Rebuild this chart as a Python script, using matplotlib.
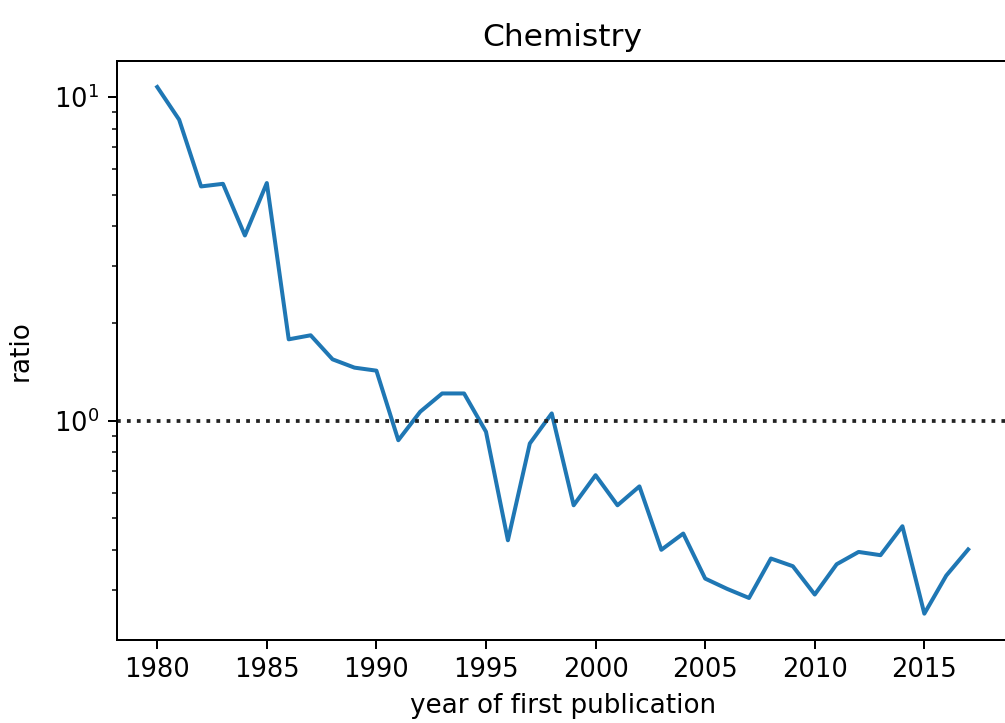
import numpy as np
import matplotlib
matplotlib.use('Agg')
import matplotlib.pyplot as plt

# ratio per year of first publication
years = list(range(1980, 2018))
ratio = [10.75, 8.52, 5.30, 5.40, 3.74, 5.43, 1.787, 1.839, 1.550, 1.461,
         1.430, 0.872, 1.068, 1.216, 1.216, 0.926, 0.428, 0.852, 1.055, 0.549,
         0.680, 0.549, 0.628, 0.400, 0.449, 0.326, 0.303, 0.284, 0.376, 0.356,
         0.291, 0.361, 0.394, 0.385, 0.473, 0.254, 0.333, 0.401]

dpi = 180
fig = plt.figure(figsize=(1005 / dpi, 723 / dpi), dpi=dpi)
ax = fig.add_axes([0.1161, 0.1148, 0.8876, 0.8013])

ax.plot(years, ratio, color='#1f77b4', linewidth=1.6)
ax.set_yscale('log')
ax.axhline(1, color='#222222', linestyle=':')

ax.set_title('Chemistry', fontsize=12.5)
ax.set_xlabel('year of first publication', fontsize=10.5)
ax.set_ylabel('ratio', fontsize=10.5, labelpad=8)
ax.tick_params(labelsize=10.3)

fig.savefig('out.png', dpi=dpi)
